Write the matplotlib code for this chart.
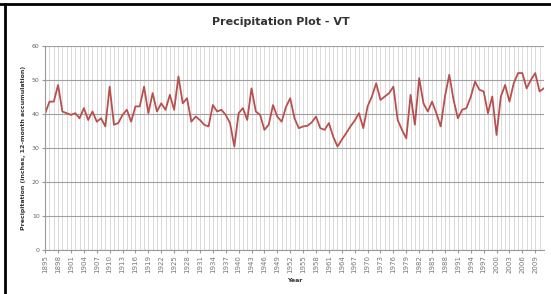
import matplotlib
matplotlib.use("Agg")
import matplotlib.pyplot as plt
from matplotlib.lines import Line2D
import numpy as np

# annual (12-month accumulated) precipitation, inches
years = list(range(1895, 2012))
precip = [
    40.2, 43.6, 43.6, 48.5, 40.7, 40.2, 39.7, 40.2, 38.7, 41.7,
    38.2, 40.7, 37.7, 38.7, 36.3, 48.0, 36.8, 37.3, 39.7, 41.2,
    37.7, 42.2, 42.2, 48.0, 40.2, 46.1, 40.7, 43.1, 41.2, 45.6,
    41.2, 51.0, 43.1, 44.6, 37.7, 39.2, 38.2, 36.8, 36.3, 42.6,
    40.7, 41.2, 39.7, 37.3, 30.4, 40.2, 41.7, 38.2, 47.5, 40.7,
    39.7, 35.3, 36.8, 42.6, 39.2, 37.7, 42.0,
    44.6, 38.7, 35.8, 36.3, 36.5, 37.5, 39.2, 35.8, 35.3, 37.3, 33.3,
    30.4, 32.4, 34.3, 36.3, 38.0, 40.2, 35.8, 42.2, 45.1, 49.0,
    44.1, 45.1, 46.1, 48.0, 38.2, 35.3, 32.8, 45.6, 36.8, 50.5,
    43.1, 40.7, 43.6, 40.2, 36.3, 45.1, 51.5, 44.1, 38.7, 41.2,
    41.7, 45.0, 49.5, 47.1, 46.6, 40.2, 45.1, 33.8, 45.1, 48.5,
    43.6, 49.0, 52.0, 52.0, 47.5, 50.0, 52.0, 46.6, 47.5,
]
yticks = [0, 10, 20, 30, 40, 50, 60]

fig = plt.figure(figsize=(5.51, 2.94), dpi=100)
ax = fig.add_axes([0.082, 0.150, 0.905, 0.694])

x = np.arange(len(years))
ax.plot(x, precip, color="#b9504d", linewidth=1.3)

ax.set_xlim(0, len(years) - 1)
ax.set_ylim(0, 60)
ax.set_yticks(yticks)
ax.set_yticklabels([str(v) for v in yticks], fontsize=4.5, color="#666666")
ax.set_xticks(x[::3])
ax.set_xticklabels([str(y) for y in years[::3]], rotation=90, fontsize=5, color="#777777")
ax.set_xticks(x, minor=True)

ax.grid(axis="y", which="major", color="#a0a0a0", linewidth=0.8)
ax.grid(axis="x", which="both", color="#d4d4d4", linewidth=0.6)
ax.set_axisbelow(True)
ax.tick_params(axis="both", length=2, color="#999999", pad=2)
ax.tick_params(axis="x", which="minor", length=0)
for s in ["top", "right"]:
    ax.spines[s].set_visible(False)
for s in ["left", "bottom"]:
    ax.spines[s].set_color("#999999")

fig.text(0.51, 0.925, "Precipitation Plot - VT", fontsize=8, fontweight="bold",
         color="#333333", ha="center", va="center")
ax.set_xlabel("Year", fontsize=4.5, fontweight="bold", color="#333333", labelpad=3)
ax.set_ylabel("Precipitation (inches, 12-month accumulation)", fontsize=4.5,
              fontweight="bold", color="#333333", labelpad=4)

# frame of the screenshot (top and left)
fig.add_artist(Line2D([0.0, 1.0], [0.985, 0.985], color="black", linewidth=2))
fig.add_artist(Line2D([0.009, 0.009], [0.0, 0.985], color="black", linewidth=2))

fig.savefig("out.png", dpi=100)
